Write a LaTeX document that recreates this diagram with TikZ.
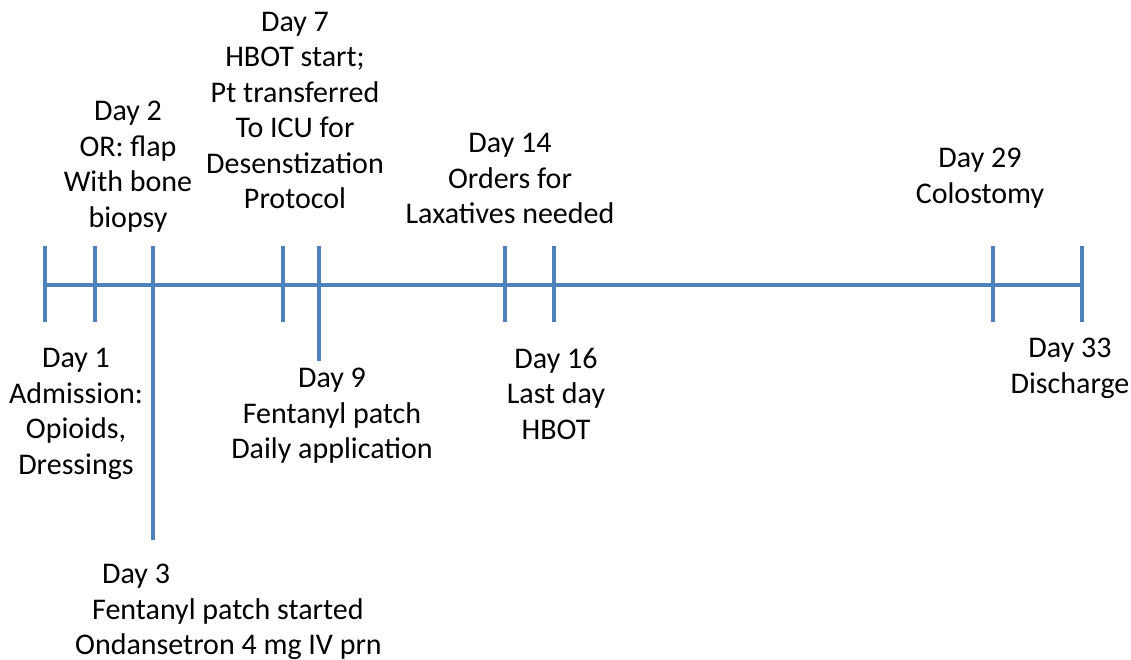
\documentclass[tikz,border=0pt]{standalone}
\usepackage{fontspec}
\setmainfont{Carlito}
\definecolor{tlblue}{HTML}{4F81BD}
\begin{document}
\begin{tikzpicture}[x=1pt,y=-1pt,
  tl/.style={draw=tlblue,line width=4.5pt},
  lbl/.style={anchor=north,inner sep=0pt,align=center,font=\fontsize{30}{35.5}\selectfont,text=black}]
\useasboundingbox (0,0) rectangle (1131,660);
% main line
\coordinate (start) at (45,285);
\coordinate (end) at (1082,285);
\draw[tl] (start) -- (end);
% ticks
\foreach \n/\x/\b in {1/45/322, 2/95/322, 3/153/540, 7/283/322, 9/319/361, 14/505/322, 16/554/322, 29/993/322, 33/1082/322}{
  \coordinate (t\n) at (\x,246);
  \coordinate (b\n) at (\x,\b);
  \draw[tl] (t\n) -- (b\n);
}
% labels above
\node[lbl] (l2) at (128,101) {Day 2\\OR: flap\\With bone\\biopsy};
\node[lbl] (l7) at (295,12) {Day 7\\HBOT start;\\Pt transferred\\To ICU for\\Desenstization\\Protocol};
\node[lbl] (l14) at (510,133) {Day 14\\Orders for\\Laxatives needed};
\node[lbl] (l29) at (980,148) {Day 29\\Colostomy};
% labels below
\node[lbl] (l1) at (76,348) {Day 1\\Admission:\\Opioids,\\Dressings};
\node[lbl] (l9) at (332,368) {Day 9\\Fentanyl patch\\Daily application};
\node[lbl] (l16) at (556,348) {Day 16\\Last day\\HBOT};
\node[lbl] (l33) at (1070,338) {Day 33\\Discharge};
\node[lbl,anchor=north west,align=left] (l3) at (75,564) {\hspace*{27pt}Day 3\\\hspace*{17pt}Fentanyl patch started\\Ondansetron 4 mg IV prn};
\end{tikzpicture}
\end{document}
